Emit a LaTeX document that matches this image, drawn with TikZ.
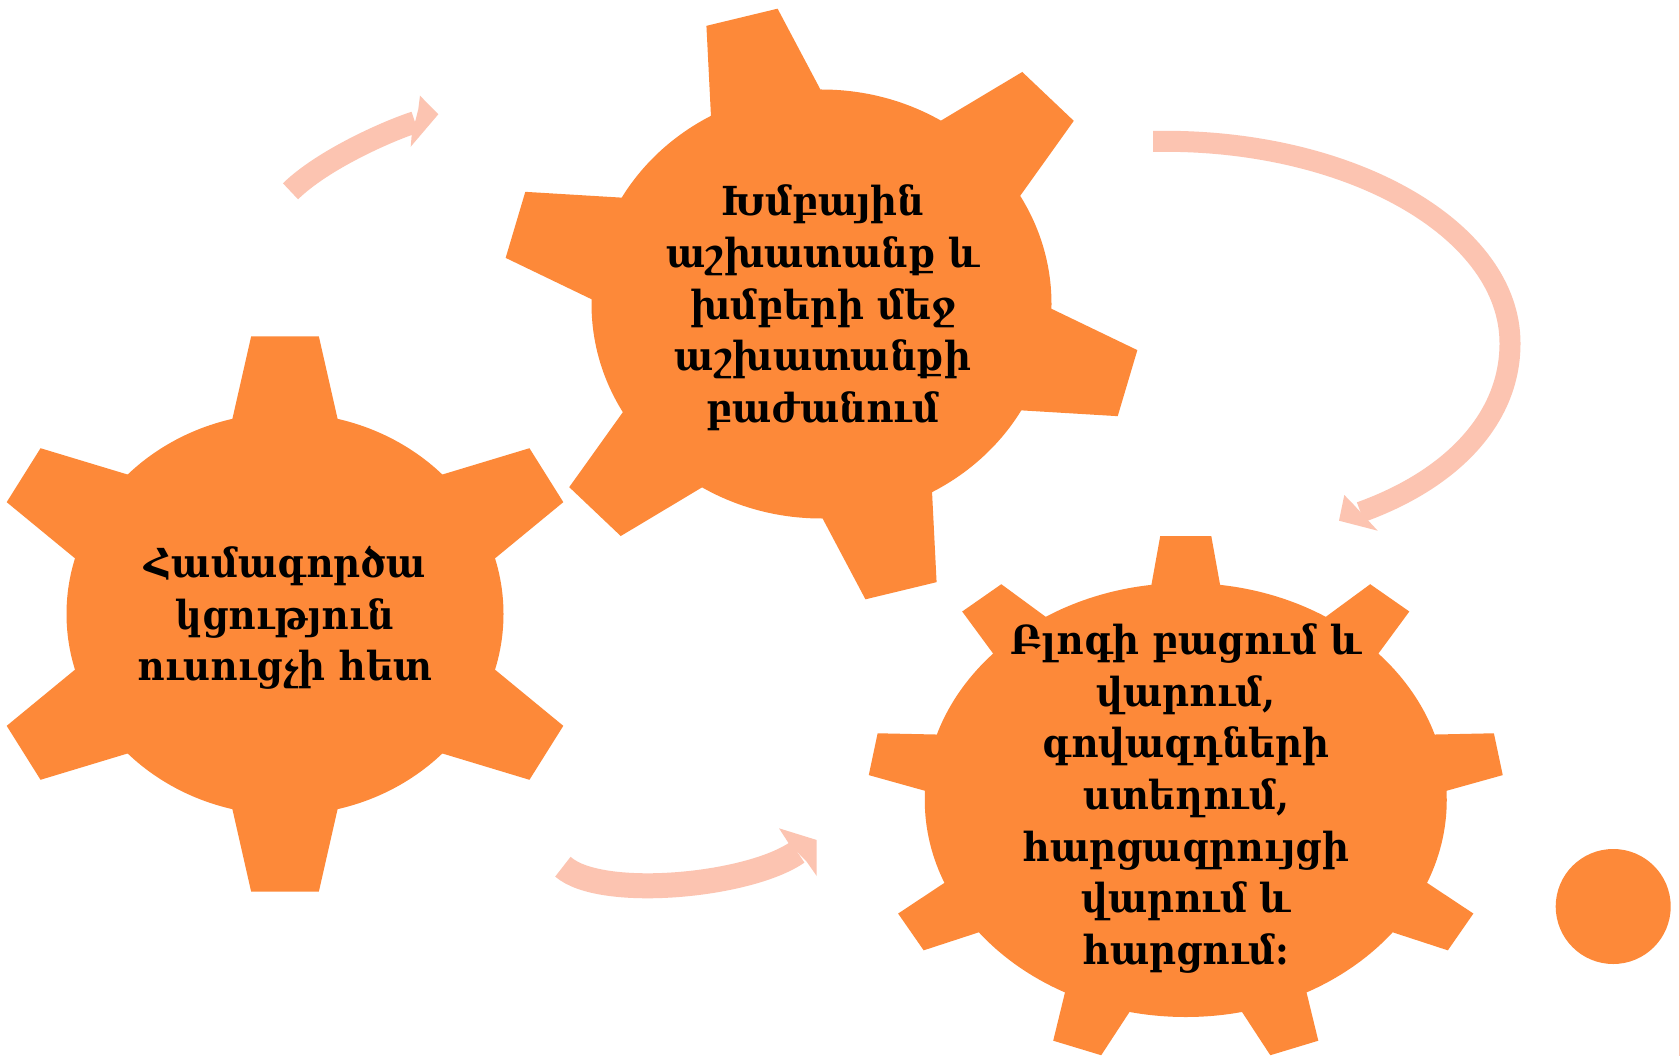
\documentclass[tikz,border=0pt]{standalone}
\usepackage{fontspec}
\newfontfamily\armfont{DejaVu Serif}[FakeStretch=0.93]
\definecolor{gearorange}{RGB}{253,137,57}
\definecolor{arrowpink}{RGB}{252,196,177}
\newcommand\gl[1]{\strut#1}
\newcommand\mygear[8]{%
  \begin{scope}[shift={(#1,#2)},xscale=#3,yscale=-#4]
    \fill[gearorange] (0,0) circle[radius=1];
    \foreach \a in {#5}{%
      \fill[gearorange] ({\a-#8}:0.98) -- ({\a-#7}:#6) -- ({\a+#7}:#6) -- ({\a+#8}:0.98) -- (0,0) -- cycle;}
  \end{scope}}
\tikzset{
  gtext/.style={font=\armfont\bfseries\fontsize{40}{51.7}\selectfont, align=center, inner sep=0pt, text=black},
  band/.style={draw=arrowpink, line cap=butt, line join=round},
  headfill/.style={fill=arrowpink}
}
\begin{document}
\begin{tikzpicture}[x=1pt,y=-1pt]
\useasboundingbox (0,0) rectangle (1680,1056);
\fill[white] (0,0) rectangle (1680,1056);

% gears
\mygear{285}{614}{218.5}{201}{90,30,-30,-90,-150,150}{1.39}{6.4}{14.5}
\mygear{821.5}{304}{230}{214.5}{104.5,44.5,-15.5,-75.5,-135.5,164.5}{1.39}{6.6}{14.8}
\mygear{1185.75}{800}{261}{217}{90,50,10,-30,-70,-110,-150,170,130}{1.22}{4.6}{7.9}

% arrow 1 (top left)
\coordinate (a1s) at (290.5,191.3);
\coordinate (a1e) at (415,122.2);
\draw[band, line width=22] (a1s) .. controls (322.7,159.9) and (386.5,131.5) .. (a1e);
\fill[headfill] (418.3,109.3) -- (420,95.7) -- (438.3,114.3) -- (410.7,146.7) -- (411.7,135) -- cycle;

% arrow 2 (big right)
\coordinate (a2s) at (1153,141.3);
\coordinate (a2r) at (1510,343.3);
\coordinate (a2e) at (1360.5,512.2);
\draw[band, line width=21] (a2s) -- (1165,141.3) .. controls (1355.4,141.3) and (1510,231.8) .. (a2r)
   .. controls (1510,420) and (1450,480) .. (a2e);
\fill[headfill] (1353.3,504.3) -- (1344.3,495) -- (1339,520.7) -- (1377.7,530.7) -- (1367.7,520) -- cycle;

% arrow 3 (bottom)
\coordinate (a3s) at (562.9,866.7);
\coordinate (a3e) at (797.5,852.2);
\draw[band, line width=25] (a3s) .. controls (600.4,899.9) and (748.3,886.4) .. (a3e);
\fill[headfill] (788.3,842.7) -- (779,828.3) -- (816.7,840) -- (816.7,876) -- (806.7,861.7) -- cycle;

% small dot
\node[circle, fill=gearorange, minimum size=115pt, inner sep=0pt] (dot) at (1613.2,906.5) {};

% right border line
\coordinate (b1) at (1679.3,0);
\coordinate (b2) at (1679.3,1056);
\draw[arrowpink, line width=1.2pt] (b1) -- (b2);

% texts
\node[gtext] (t1) at (285,618.7) {\gl{Համագործա}\\\gl{կցություն}\\\gl{ուսուցչի հետ}};
\node[gtext] (t2) at (823,308.9) {\gl{Խմբային}\\\gl{աշխատանք և}\\\gl{խմբերի մեջ}\\\gl{աշխատանքի}\\\gl{բաժանում}};
\node[gtext] (t3) at (1186,799.1) {\gl{Բլոգի բացում և}\\\gl{վարում,}\\\gl{գովազդների}\\\gl{ստեղում,}\\\gl{հարցազրույցի}\\\gl{վարում և}\\\gl{հարցում:}};
\end{tikzpicture}
\end{document}
